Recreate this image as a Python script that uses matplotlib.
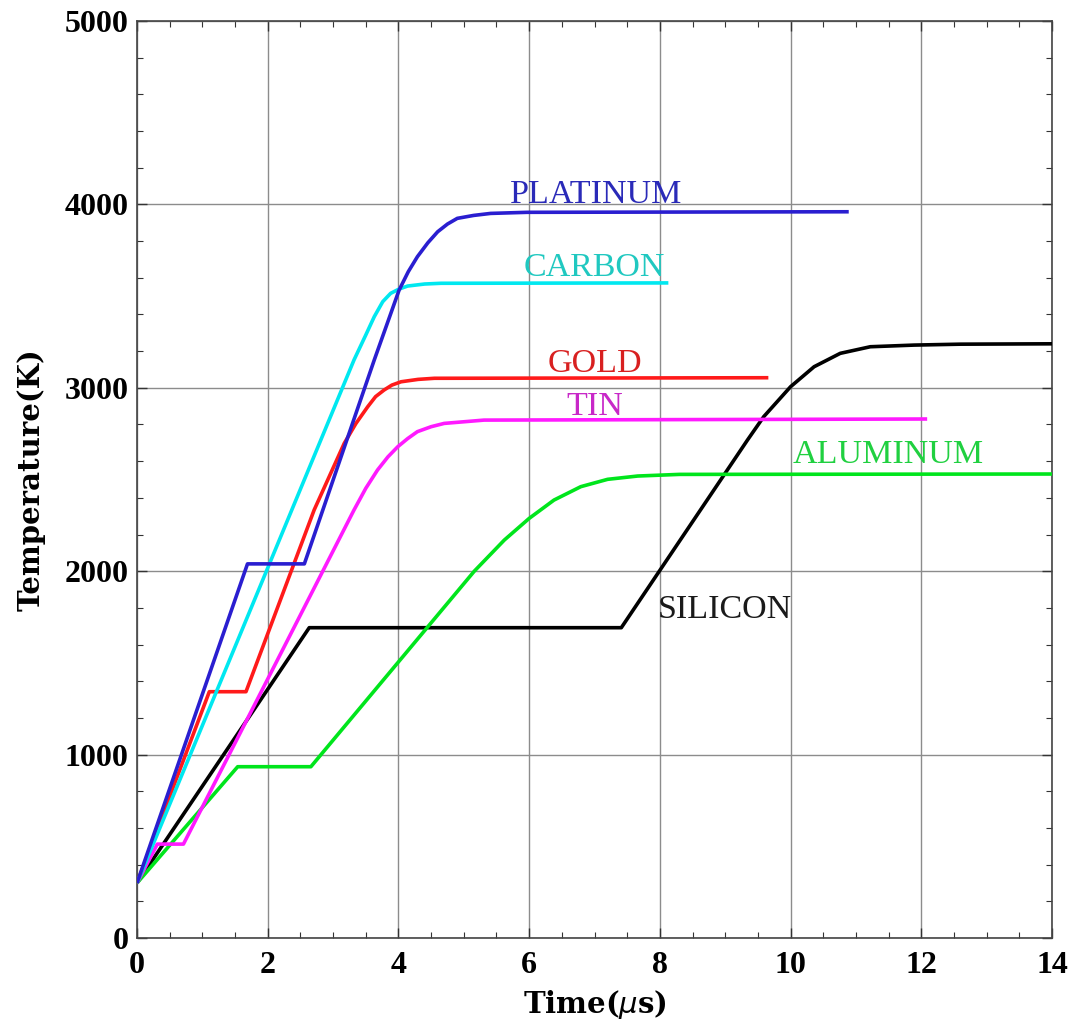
import matplotlib
matplotlib.use("Agg")
import matplotlib.pyplot as plt
from matplotlib.ticker import MultipleLocator

# ---- data ----
platinum_t = [0, 1.69, 2.56, 3.63, 4.01, 4.15, 4.29, 4.45, 4.60, 4.75, 4.90, 5.15, 5.41, 5.97, 10.89]
platinum_T = [300, 2040, 2040, 3152, 3533, 3633, 3715, 3791, 3851, 3893, 3924, 3940, 3951, 3957, 3960]

carbon_t = [0, 3.32, 3.50, 3.63, 3.76, 3.88, 4.00, 4.14, 4.40, 4.65, 8.13]
carbon_T = [300, 3152, 3288, 3388, 3470, 3515, 3537, 3555, 3566, 3570, 3572]

gold_t = [0, 1.106, 1.667, 2.71, 3.17, 3.35, 3.53, 3.65, 3.78, 3.90, 4.04, 4.30, 4.55, 9.66]
gold_T = [300, 1343, 1343, 2334, 2697, 2806, 2897, 2952, 2988, 3015, 3033, 3046, 3052, 3055]

tin_t = [0, 0.31, 0.71, 3.32, 3.50, 3.68, 3.84, 3.99, 4.14, 4.29, 4.50, 4.70, 5.31, 12.09]
tin_T = [300, 512, 512, 2334, 2452, 2552, 2624, 2679, 2723, 2761, 2788, 2806, 2824, 2830]

aluminum_t = [0, 1.54, 2.66, 5.16, 5.62, 6.00, 6.38, 6.79, 7.20, 7.66, 8.30, 14.0]
aluminum_T = [300, 934, 934, 2000, 2170, 2288, 2388, 2461, 2501, 2519, 2528, 2530]

silicon_t = [0, 2.635, 7.41, 9.34, 9.59, 10.00, 10.36, 10.76, 11.22, 11.89, 12.60, 14.0]
silicon_T = [300, 1692, 1692, 2715, 2843, 3006, 3115, 3188, 3224, 3233, 3238, 3240]

names = ["PLATINUM", "CARBON", "GOLD", "TIN", "ALUMINUM", "SILICON"]
label_t = [7.02, 7.0, 7.0, 7.0, 11.5, 9.0]
label_T = [4008, 3610, 3088, 2852, 2592, 1743]

x_ticks = [0, 2, 4, 6, 8, 10, 12, 14]
y_ticks = [0, 1000, 2000, 3000, 4000, 5000]

# ---- styling ----
line_colors = ["#2a1ed0", "#00e8f0", "#ff1a1a", "#ff1aff", "#00e51c", "#000000"]
text_colors = ["#2a2ab8", "#20c8c0", "#d82020", "#c828c8", "#20d040", "#1a1a1a"]

fig = plt.figure(figsize=(10.74, 10.31), dpi=100)
ax = fig.add_axes([0.1276, 0.0902, 0.8519, 0.8894])

series = [(platinum_t, platinum_T), (carbon_t, carbon_T), (gold_t, gold_T),
          (tin_t, tin_T), (aluminum_t, aluminum_T), (silicon_t, silicon_T)]
order = [5, 4, 3, 2, 1, 0]
for i in order:
    t, T = series[i]
    ax.plot(t, T, color=line_colors[i], lw=2.6, solid_joinstyle="round",
            solid_capstyle="butt", zorder=3)

for i, name in enumerate(names):
    ax.text(label_t[i], label_T[i], name, color=text_colors[i], ha="center",
            va="baseline", fontsize=24.5, family="Liberation Serif", zorder=4)

ax.set_xlim(0, 14)
ax.set_ylim(0, 5000)
ax.set_xticks(x_ticks)
ax.set_yticks(y_ticks)
ax.xaxis.set_minor_locator(MultipleLocator(0.5))
ax.yaxis.set_minor_locator(MultipleLocator(200))
ax.grid(True, which="major", color="#8c8c8c", lw=1.0, zorder=1)
ax.tick_params(which="both", direction="in", top=True, right=True, color="#333333")
ax.tick_params(which="major", length=7, width=1.0)
ax.tick_params(which="minor", length=4, width=0.8)
ax.tick_params(axis="x", which="major", pad=9)
ax.tick_params(axis="y", which="major", pad=6)
for lab in ax.get_xticklabels() + ax.get_yticklabels():
    lab.set_fontfamily("Liberation Serif")
    lab.set_fontweight("bold")
    lab.set_fontsize(23)
for s in ax.spines.values():
    s.set_color("#444444")
    s.set_linewidth(1.2)

ax.set_xlabel(r"Time($\mu$s)", fontsize=21, fontweight="bold", family="DejaVu Serif",
              labelpad=6)
ax.set_ylabel("Temperature(K)", fontsize=21, fontweight="bold", family="DejaVu Serif",
              labelpad=14)

fig.savefig("out.png", dpi=100)
